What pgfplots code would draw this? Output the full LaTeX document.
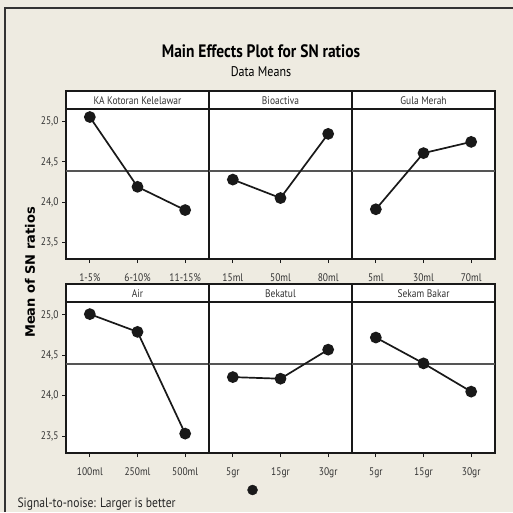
\documentclass[border=0pt]{standalone}
\usepackage{fontspec}
\setmainfont{PT Sans}[FakeStretch=0.86]
\newfontfamily\ylfont{DejaVu Sans}
\usepackage{pgfplots}
\pgfplotsset{compat=1.18}
\definecolor{bg}{RGB}{238,235,225}
\definecolor{ln}{RGB}{25,25,25}
\definecolor{ref}{RGB}{85,85,85}
\pgfplotsset{
  panel/.style={scale only axis, width=143pt, height=150pt,
    xmin=0.5, xmax=3.5, ymin=23.29, ymax=25.16,
    axis line style={line width=1.2pt, ln},
    axis background/.style={fill=white},
    xtick={1,2,3}, ytick=\empty,
    xtick pos=bottom, ytick pos=left,
    tick align=outside, major tick length=4pt,
    tick style={ln, line width=1pt},
    tick label style={font=\fontsize{11}{12}\selectfont, text=black!80},
    xticklabel style={yshift=-7pt},
    clip=false},
  yt/.style={ytick={23.5,24,24.5,25}, yticklabels={{23,5},{24,0},{24,5},{25,0}}},
  refl/.style={ref, line width=1.8pt, forget plot},
  dat/.style={ln, line width=1.7pt, mark=*, mark size=5pt, mark options={fill=ln, draw=ln}},
}
\newcommand{\strip}[3]{%
  \draw[line width=1.2pt, ln, fill=white] (#1pt,#2pt) rectangle ++(143pt,18pt);
  \node[font=\fontsize{11}{12}\selectfont, text=black!80] at (#1pt+71.5pt,#2pt+8pt) {#3};}
\begin{document}
\begin{tikzpicture}
\useasboundingbox (0,0) rectangle (513pt,512pt);
\fill[bg] (0,0) rectangle (513pt,512pt);
\draw[line width=1.5pt, black!80] (5pt,0) -- (5pt,504pt) -- (513pt,504pt);
\node[font=\fontsize{18}{20}\selectfont\bfseries] at (261pt,461pt) {Main Effects Plot for SN ratios};
\node[font=\fontsize{14}{15}\selectfont] at (261pt,440pt) {Data Means};
% top row
\begin{axis}[panel, yt, at={(66pt,253pt)}, anchor=south west, xticklabels={1-5\%,6-10\%,11-15\%}]
\addplot[refl] coordinates {(0.5,24.39) (3.5,24.39)};
\addplot[dat] coordinates {(1,25.06) (2,24.19) (3,23.90)};
\end{axis}
\begin{axis}[panel, at={(209pt,253pt)}, anchor=south west, xticklabels={15ml,50ml,80ml}]
\addplot[refl] coordinates {(0.5,24.39) (3.5,24.39)};
\addplot[dat] coordinates {(1,24.28) (2,24.05) (3,24.85)};
\end{axis}
\begin{axis}[panel, at={(352pt,253pt)}, anchor=south west, xticklabels={5ml,30ml,70ml}]
\addplot[refl] coordinates {(0.5,24.39) (3.5,24.39)};
\addplot[dat] coordinates {(1,23.91) (2,24.61) (3,24.75)};
\end{axis}
% bottom row
\begin{axis}[panel, yt, height=151pt, at={(66pt,59pt)}, anchor=south west, xticklabels={100ml,250ml,500ml}]
\addplot[refl] coordinates {(0.5,24.39) (3.5,24.39)};
\addplot[dat] coordinates {(1,25.01) (2,24.79) (3,23.53)};
\end{axis}
\begin{axis}[panel, height=151pt, at={(209pt,59pt)}, anchor=south west, xticklabels={5gr,15gr,30gr},
  legend style={at={(axis description cs:0.308,-0.245)}, anchor=center, draw=none, fill=none, inner sep=0pt, outer sep=0pt, nodes={inner sep=0pt}},
  legend image code/.code={\fill[ln] (0pt,0pt) circle (5pt);}]
\addplot[refl] coordinates {(0.5,24.39) (3.5,24.39)};
\addplot[dat, forget plot] coordinates {(1,24.23) (2,24.21) (3,24.57)};
\addlegendimage{ln}
\addlegendentry{}
\end{axis}
\begin{axis}[panel, height=151pt, at={(352pt,59pt)}, anchor=south west, xticklabels={5gr,15gr,30gr}]
\addplot[refl] coordinates {(0.5,24.39) (3.5,24.39)};
\addplot[dat] coordinates {(1,24.72) (2,24.40) (3,24.05)};
\end{axis}
\strip{66}{403}{KA Kotoran Kelelawar}
\strip{209}{403}{Bioactiva}
\strip{352}{403}{Gula Merah}
\strip{66}{210}{Air}
\strip{209}{210}{Bekatul}
\strip{352}{210}{Sekam Bakar}
\node[rotate=90, font=\ylfont\fontsize{13}{15}\selectfont\bfseries] at (30pt,239.5pt) {Mean of SN ratios};
\node[anchor=west, font=\fontsize{13.5}{15}\selectfont, text=black!85] at (14pt,8pt) {Signal-to-noise: Larger is better};
\end{tikzpicture}
\end{document}
